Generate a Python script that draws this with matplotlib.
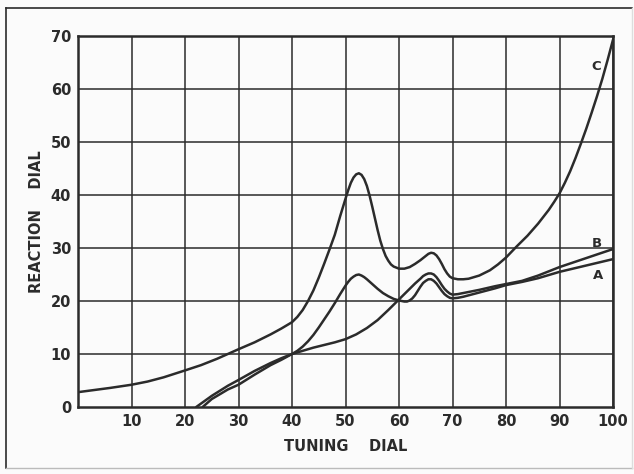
import numpy as np
import matplotlib.pyplot as plt
from matplotlib.lines import Line2D

# curve C
c_x = [0, 3, 6, 10, 13, 16, 20, 23, 26, 30, 33, 36, 38, 40, 41, 42, 43, 44, 45, 46, 47, 48, 49, 50,
       50.5, 51, 51.5, 52, 52.5, 53, 53.5, 54, 54.5, 55, 55.5, 56, 56.5, 57, 57.5, 58, 58.5, 59, 60, 61,
       62, 63, 64, 65, 65.5, 66, 66.5, 67, 67.5, 68, 68.5, 69, 69.5, 70, 71, 72, 73, 75, 77, 78.5, 80,
       82, 84, 86, 88, 89, 90, 91, 92, 93, 94, 95, 96, 97, 98, 99, 100]
c_y = [2.8, 3.2, 3.6, 4.2, 4.8, 5.6, 6.9, 7.9, 9.1, 10.9, 12.2, 13.7, 14.8, 16.0, 17.0, 18.3, 20.0, 22.0, 24.4, 27.0, 29.7, 32.5, 36.0, 39.3,
       40.9, 42.3, 43.3, 43.9, 44.1, 43.8, 43.0, 41.7, 39.9, 37.8, 35.6, 33.4, 31.4, 29.8, 28.5, 27.6, 26.9, 26.5, 26.1, 26.1,
       26.4, 27.0, 27.7, 28.5, 28.9, 29.1, 29.0, 28.6, 27.9, 27.0, 26.0, 25.2, 24.6, 24.3, 24.1, 24.1, 24.2, 24.8, 25.8, 26.9, 28.2,
       30.3, 32.3, 34.6, 37.2, 38.7, 40.3, 42.3, 44.5, 47.0, 49.7, 52.5, 55.5, 58.6, 61.9, 65.5, 69.3]

# curve A (hump at 52)
a_x = [23.3, 25, 28, 30, 33, 36, 38, 40, 41, 42, 43, 44, 45, 46, 47, 48, 49, 50, 50.5, 51,
       51.5, 52, 52.5, 53, 53.5, 54, 55, 56, 57, 58, 59, 60, 61, 61.5, 62, 62.5, 63, 63.5, 64, 64.5,
       65, 65.5, 66, 66.5, 67, 67.5, 68, 68.5, 69, 69.5, 70, 71, 72, 75, 78, 80, 83, 86, 90, 95,
       100]
a_y = [0.0, 1.5, 3.3, 4.2, 6.1, 7.9, 8.9, 10.0, 10.6, 11.4, 12.4, 13.6, 15.0, 16.5, 18.0, 19.6, 21.3, 22.9, 23.6, 24.2,
       24.6, 24.9, 25.0, 24.8, 24.5, 24.1, 23.2, 22.3, 21.5, 20.9, 20.4, 20.1, 19.9, 19.9, 20.1, 20.5, 21.1, 21.9, 22.7, 23.4,
       23.8, 24.1, 24.1, 23.8, 23.3, 22.6, 21.9, 21.3, 20.9, 20.6, 20.5, 20.6, 20.8, 21.6, 22.4, 23.0, 23.6, 24.3, 25.5, 26.7,
       27.9]

# curve B (smooth)
b_x = [22.1, 25, 28, 30, 33, 36, 38, 40, 41, 42, 44, 46, 48, 50, 52, 54, 56, 58, 59, 60,
       61, 62, 63, 64, 64.5, 65, 65.5, 66, 66.5, 67, 67.5, 68, 68.5, 69, 69.5, 70, 71, 72, 75, 78,
       80, 83, 86, 90, 95, 100]
b_y = [0.0, 2.1, 4.0, 5.1, 6.8, 8.3, 9.2, 10.0, 10.3, 10.6, 11.2, 11.7, 12.2, 12.8, 13.7, 14.9, 16.4, 18.3, 19.3, 20.3,
       21.3, 22.3, 23.3, 24.2, 24.7, 25.0, 25.2, 25.2, 25.0, 24.5, 23.8, 23.0, 22.3, 21.8, 21.4, 21.2, 21.3, 21.5, 22.1, 22.8,
       23.2, 23.8, 24.8, 26.4, 28.1, 29.8]

x_ticks = [10, 20, 30, 40, 50, 60, 70, 80, 90, 100]
y_ticks = [0, 10, 20, 30, 40, 50, 60, 70]

ink = '#2b2b2b'
bg = '#fbfbfb'

fig = plt.figure(figsize=(6.34, 4.74), dpi=100, facecolor=bg)
ax = fig.add_axes([78 / 634, 1 - 407 / 474, (613 - 78) / 634, (407 - 36) / 474])
ax.set_facecolor(bg)

for xv in x_ticks:
    ax.axvline(xv, color=ink, lw=1.1, zorder=1)
for yv in y_ticks[1:]:
    ax.axhline(yv, color=ink, lw=1.1, zorder=1)

for xs, ys in [(c_x, c_y), (a_x, a_y), (b_x, b_y)]:
    ax.plot(xs, ys, color=ink, lw=1.8, solid_joinstyle='round', solid_capstyle='round', zorder=3)

ax.set_xlim(0, 100)
ax.set_ylim(0, 70)
ax.set_xticks(x_ticks)
ax.set_yticks(y_ticks)
ax.tick_params(length=0, labelsize=10.5, colors=ink, pad=5)
for lab in ax.get_xticklabels() + ax.get_yticklabels():
    lab.set_fontweight('bold')
for s in ax.spines.values():
    s.set_color(ink)
    s.set_linewidth(1.8)

ax.set_xlabel('TUNING    DIAL', fontsize=10.5, fontweight='bold', color=ink, labelpad=7)
ax.set_ylabel('REACTION    DIAL', fontsize=10.5, fontweight='bold', color=ink, labelpad=5)

ax.text(96.9, 64.3, 'C', fontsize=9.5, fontweight='bold', color=ink, ha='center', va='center')
ax.text(96.9, 30.8, 'B', fontsize=9.5, fontweight='bold', color=ink, ha='center', va='center')
ax.text(97.3, 24.9, 'A', fontsize=9.5, fontweight='bold', color=ink, ha='center', va='center')

# outer frame of the scanned figure
W, H = 634, 474
fig.add_artist(Line2D([6 / W, 632 / W], [1 - 8 / H, 1 - 8 / H], color=ink, lw=1.2))
fig.add_artist(Line2D([6 / W, 6 / W], [1 - 8 / H, 1 - 468 / H], color=ink, lw=1.2))
fig.add_artist(Line2D([6 / W, 632 / W], [1 - 468 / H, 1 - 468 / H], color='#bbbbbb', lw=1.0))
fig.add_artist(Line2D([632 / W, 632 / W], [1 - 8 / H, 1 - 468 / H], color='#dddddd', lw=1.0))

fig.savefig('out.png', dpi=100, facecolor=bg)
